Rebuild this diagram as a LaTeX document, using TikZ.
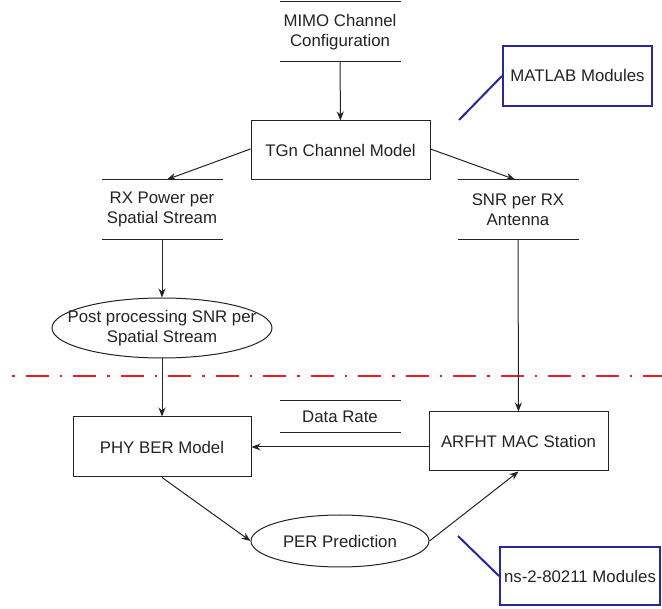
\documentclass[tikz,border=0pt]{standalone}
\usepackage{fontspec}
\setmainfont{Liberation Sans}
\usetikzlibrary{arrows.meta,shapes.geometric}

\definecolor{modblue}{RGB}{40,40,150}
\definecolor{splitred}{RGB}{230,30,40}
\definecolor{ink}{RGB}{35,35,35}

\begin{document}
\begin{tikzpicture}[x=1pt,y=-1pt,line width=1pt,draw=ink,text=ink,
    font=\fontsize{16.8}{19.5}\selectfont,
    >={Stealth[length=9pt,width=7pt]}]
    \tikzstyle{block}=[draw,rectangle,minimum height=59pt,align=center,inner sep=0pt]
    \tikzstyle{store}=[rectangle,minimum width=120pt,minimum height=59pt,align=center,inner sep=0pt]
    \tikzstyle{proc}=[draw,ellipse,inner sep=0pt]
    \tikzstyle{modbox}=[draw=modblue,line width=2pt,rectangle,inner sep=0pt]
    \useasboundingbox (0,0) rectangle (662,609);

    \node[store] (mimo)  at (340,32)    {MIMO Channel\\Configuration};
    \node[block,minimum width=179pt] (tgn) at (340.5,150.5) {TGn Channel Model};
    \node[store] (rxpow) at (162,209.5) {RX Power per\\Spatial Stream};
    \node[store] (snrrx) at (518,209.5) {SNR per RX\\Antenna};
    \node[proc,minimum width=220pt,minimum height=60pt,
          label={[align=center]center:Post processing SNR per\\Spatial Stream}] (post) at (162,328) {};
    \node[block,minimum width=178pt,minimum height=60pt] (phy) at (162,447) {PHY BER Model};
    \node[block,minimum width=179pt] (arfht) at (518.5,441.5) {ARFHT MAC Station};
    \node[store,minimum height=31pt] (rate) at (340,416.5) {Data Rate};
    \node[proc,minimum width=178pt,minimum height=52pt,
          label={center:PER Prediction}] (per) at (340,541) {};
    \node[modbox,minimum width=149pt,minimum height=60pt] (matlab) at (577.5,76) {MATLAB Modules};
    \node[modbox,minimum width=160pt,minimum height=58pt] (ns) at (580,576) {ns-2-80211 Modules};
    \coordinate (matlabtip) at (459,120);
    \coordinate (nstip) at (458,536);

    % lines of the data stores
    \foreach \s in {mimo,rxpow,snrrx,rate}
        \draw (\s.north west) -- (\s.north east) (\s.south west) -- (\s.south east);

    % module split
    \draw[splitred,line width=2.5pt,dash pattern=on 2.5pt off 11pt on 23pt off 11pt] (12,376) -- (662,376);

    \path[->]
    (mimo) edge (tgn)
    ([yshift=1.5pt]tgn.west) edge ([xshift=5pt]rxpow.north)
    ([yshift=1.5pt]tgn.east) edge ([xshift=-3pt]snrrx.north)
    (rxpow) edge (post)
    (snrrx) edge (arfht)
    (post) edge (phy)
    (arfht.west |- phy.east) edge (phy.east)
    (phy.south) edge (per.west)
    (per.east) edge (arfht.south);

    \draw[modblue,line width=2pt] (matlabtip) -- (matlab.west);
    \draw[modblue,line width=2pt] (nstip) -- (ns.west);
\end{tikzpicture}
\end{document}
